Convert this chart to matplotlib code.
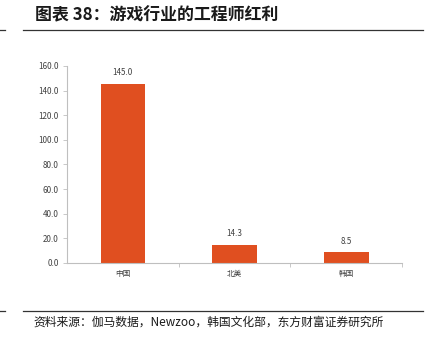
import matplotlib.pyplot as plt
from matplotlib.lines import Line2D

plt.rcParams['font.family'] = ['Noto Sans CJK SC', 'DejaVu Sans']

regions = ['中国', '北美', '韩国']
values = [145.0, 14.3, 8.5]
yticks = [0, 20, 40, 60, 80, 100, 120, 140, 160]

bar_color = '#E04F20'
axis_color = '#BFBFBF'
text_color = '#404040'

fig = plt.figure(figsize=(4.34, 3.38), dpi=100)
ax = fig.add_axes([0.1544, 0.222, 0.772, 0.583])

x = range(len(regions))
bars = ax.bar(x, values, width=0.4, color=bar_color, zorder=2)
for rect, v in zip(bars, values):
    ax.annotate(f'{v:.1f}', (rect.get_x() + rect.get_width() / 2, v),
                xytext=(0, 5), textcoords='offset points',
                ha='center', va='bottom', fontsize=5.8, color=text_color)

ax.set_xlim(-0.5, len(regions) - 0.5)
ax.set_ylim(0, 160)
ax.set_yticks(yticks)
ax.set_yticklabels([f'{t:.1f}' for t in yticks], fontsize=5.8, color=text_color)
ax.set_xticks(list(x))
ax.set_xticklabels(regions, fontsize=5.5, color=text_color)
ax.set_xticks([0.5, 1.5, 2.5], minor=True)

ax.tick_params(axis='y', length=3, width=0.6, color=axis_color, pad=3)
ax.tick_params(axis='x', which='major', length=0, pad=5)
ax.tick_params(axis='x', which='minor', length=3, width=0.6, color=axis_color)

for side in ['top', 'right']:
    ax.spines[side].set_visible(False)
for side in ['left', 'bottom']:
    ax.spines[side].set_color(axis_color)
    ax.spines[side].set_linewidth(0.8)

# header and footer of the figure
fig.text(0.081, 0.955, '图表 38：游戏行业的工程师红利', fontsize=12.2,
         fontweight='bold', color='#1a1a1a', va='center', ha='left')
fig.add_artist(Line2D([0.053, 0.975], [0.911, 0.911], color='#333333', lw=0.9))
fig.add_artist(Line2D([0.0, 0.012], [0.911, 0.911], color='#333333', lw=0.9))
fig.add_artist(Line2D([0.053, 0.975], [0.080, 0.080], color='#333333', lw=0.9))
fig.add_artist(Line2D([0.0, 0.012], [0.080, 0.080], color='#333333', lw=0.9))
fig.text(0.076, 0.047, '资料来源：伽马数据，Newzoo，韩国文化部，东方财富证券研究所',
         fontsize=8.5, color='#1a1a1a', va='center', ha='left')

fig.savefig('out.png', dpi=100)
